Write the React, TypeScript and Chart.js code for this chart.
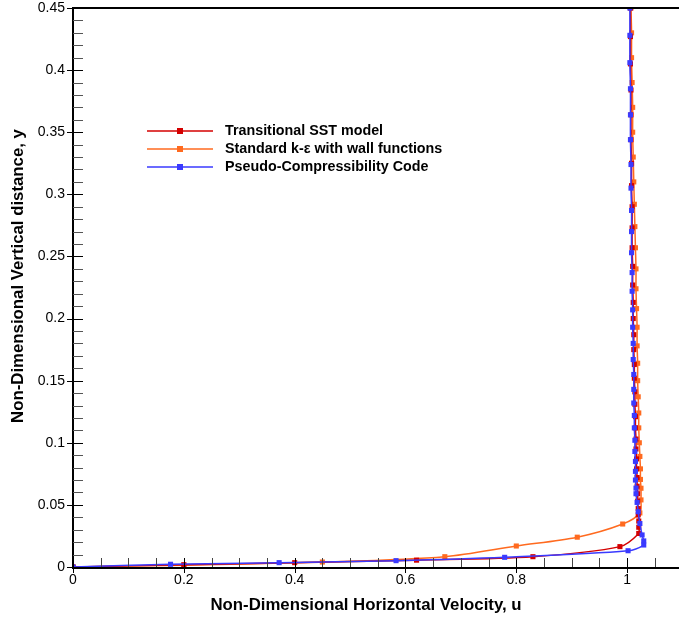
import React, { useEffect, useRef } from 'react';
import { Chart, registerables } from 'chart.js';
Chart.register(...registerables);

// ---- Data ----
const seriesNames = [
  'Transitional SST model',
  'Standard k-ε with wall functions',
  'Pseudo-Compressibility Code',
];

const sstY = [0.45, 0.427, 0.405, 0.384, 0.364, 0.344, 0.325, 0.307, 0.29, 0.273, 0.257, 0.242, 0.227, 0.213, 0.2, 0.187, 0.175, 0.163, 0.152, 0.141, 0.131, 0.121, 0.112, 0.103, 0.095, 0.087, 0.079, 0.072, 0.065, 0.059, 0.053, 0.047, 0.042, 0.037, 0.032, 0.027, 0.0164, 0.0083, 0.0055, 0.0035, 0.0018, 0];
const sstU = [1.006, 1.006, 1.006, 1.007, 1.007, 1.007, 1.008, 1.008, 1.009, 1.009, 1.009, 1.01, 1.01, 1.011, 1.011, 1.012, 1.012, 1.013, 1.013, 1.014, 1.014, 1.015, 1.015, 1.016, 1.016, 1.017, 1.017, 1.018, 1.018, 1.019, 1.019, 1.02, 1.02, 1.021, 1.021, 1.021, 0.987, 0.83, 0.62, 0.4, 0.2, 0];

const keY = [0.45, 0.43, 0.41, 0.39, 0.37, 0.35, 0.33, 0.31, 0.292, 0.274, 0.257, 0.24, 0.224, 0.208, 0.193, 0.178, 0.164, 0.15, 0.137, 0.124, 0.112, 0.1, 0.089, 0.079, 0.0705, 0.0634, 0.054, 0.0435, 0.0346, 0.024, 0.0169, 0.0083, 0.004, 0.0015, 0];
const keU = [1.007, 1.008, 1.008, 1.009, 1.01, 1.01, 1.011, 1.012, 1.013, 1.014, 1.015, 1.016, 1.016, 1.017, 1.018, 1.018, 1.019, 1.019, 1.02, 1.021, 1.021, 1.022, 1.023, 1.024, 1.024, 1.025, 1.025, 1.023, 0.992, 0.91, 0.8, 0.671, 0.45, 0.2, 0];

const pccY = [0.45, 0.428, 0.406, 0.385, 0.364, 0.344, 0.324, 0.305, 0.287, 0.27, 0.253, 0.237, 0.222, 0.207, 0.193, 0.18, 0.167, 0.155, 0.143, 0.132, 0.122, 0.112, 0.102, 0.093, 0.085, 0.077, 0.07, 0.0635, 0.059, 0.052, 0.0445, 0.035, 0.0258, 0.021, 0.0177, 0.0131, 0.0078, 0.0051, 0.0035, 0.0022, 0];
const pccU = [1.005, 1.005, 1.005, 1.006, 1.006, 1.006, 1.007, 1.007, 1.008, 1.008, 1.008, 1.009, 1.009, 1.01, 1.01, 1.011, 1.011, 1.012, 1.012, 1.012, 1.013, 1.013, 1.014, 1.014, 1.015, 1.015, 1.015, 1.016, 1.016, 1.018, 1.02, 1.023, 1.027, 1.03, 1.03, 1.0017, 0.779, 0.583, 0.372, 0.176, 0];

const xTickValues = [0, 0.2, 0.4, 0.6, 0.8, 1];
const xTickLabels = ['0', '0.2', '0.4', '0.6', '0.8', '1'];
const yTickValues = [0, 0.05, 0.1, 0.15, 0.2, 0.25, 0.3, 0.35, 0.4, 0.45];
const yTickLabels = ['0', '0.05', '0.1', '0.15', '0.2', '0.25', '0.3', '0.35', '0.4', '0.45'];

const xTitle = 'Non-Dimensional Horizontal Velocity, u';
const yTitle = 'Non-Dimensional Vertical distance, y';

const colors = ['#d40000', '#ff6a1f', '#3a3aff'];
const FONT = '"Liberation Sans", Arial, Helvetica, sans-serif';

function toPoints(us: number[], ys: number[]) {
  return us.map((u, i) => ({ x: u, y: ys[i] }));
}

const decorPlugin = {
  id: 'decor',
  afterDraw(chart: any) {
    const { ctx, chartArea, scales } = chart;
    const xs = scales.x;
    const ys = scales.y;
    const { left, right, top, bottom } = chartArea;
    ctx.save();
    // frame
    ctx.strokeStyle = '#000';
    ctx.lineWidth = 2;
    ctx.beginPath();
    ctx.moveTo(left, top);
    ctx.lineTo(right + 2, top);
    ctx.moveTo(left, top - 1);
    ctx.lineTo(left, bottom + 1);
    ctx.lineTo(right + 2, bottom + 1);
    ctx.stroke();
    // x ticks
    ctx.lineWidth = 1;
    for (let v = 0; v <= 1.09 + 1e-9; v += 0.05) {
      const major = Math.abs(v / 0.2 - Math.round(v / 0.2)) < 1e-6;
      const px = Math.round(xs.getPixelForValue(v)) + 0.5;
      ctx.strokeStyle = major ? '#000' : '#444';
      ctx.beginPath();
      ctx.moveTo(px, bottom - 9);
      ctx.lineTo(px, bottom + (major ? 6 : 0));
      ctx.stroke();
    }
    // y ticks
    for (let i = 0; i <= 45; i++) {
      const v = i / 100;
      const major = i % 5 === 0;
      const py = Math.round(ys.getPixelForValue(v)) + 0.5;
      ctx.strokeStyle = major ? '#000' : '#555';
      ctx.beginPath();
      ctx.moveTo(left - (major ? 6 : 0), py);
      ctx.lineTo(left + 10, py);
      ctx.stroke();
    }
    // axis titles
    ctx.fillStyle = '#000';
    ctx.font = `bold 16.8px ${FONT}`;
    ctx.textAlign = 'center';
    ctx.textBaseline = 'middle';
    ctx.fillText(xTitle, 366, 605);
    ctx.save();
    ctx.translate(18, 276);
    ctx.rotate(-Math.PI / 2);
    ctx.fillText(yTitle, 0, 0);
    ctx.restore();
    // legend
    const rows = [131, 149, 167];
    ctx.font = `bold 14.3px ${FONT}`;
    ctx.textAlign = 'left';
    rows.forEach((ry, i) => {
      ctx.strokeStyle = colors[i];
      ctx.lineWidth = 1.5;
      ctx.beginPath();
      ctx.moveTo(147, ry);
      ctx.lineTo(213, ry);
      ctx.stroke();
      ctx.fillStyle = colors[i];
      ctx.fillRect(177, ry - 3, 6, 6);
      ctx.fillStyle = '#000';
      ctx.fillText(seriesNames[i], 225, ry);
    });
    ctx.restore();
  },
};

export default function App() {
  const ref = useRef<HTMLCanvasElement | null>(null);
  useEffect(() => {
    if (!ref.current) return;
    const mk = (i: number, data: any[], order: number) => ({
      label: seriesNames[i],
      data,
      borderColor: colors[i],
      backgroundColor: colors[i],
      borderWidth: 1.5,
      pointStyle: 'rect',
      pointRadius: 3.6,
      pointBorderWidth: 0,
      tension: 0.3,
      showLine: true,
      order,
    });
    const chart = new Chart(ref.current, {
      type: 'scatter',
      data: {
        datasets: [
          mk(0, toPoints(sstU, sstY), 2),
          mk(1, toPoints(keU, keY), 3),
          mk(2, toPoints(pccU, pccY), 1),
        ],
      },
      options: {
        animation: false,
        responsive: false,
        devicePixelRatio: 1,
        layout: { padding: { top: 8, right: 1, left: 0, bottom: 0 } },
        plugins: { legend: { display: false }, tooltip: { enabled: false } },
        scales: {
          x: {
            type: 'linear',
            min: 0,
            max: 1.09,
            afterFit: (s: any) => { s.height = 51; s.paddingLeft = 0; s.paddingRight = 0; },
            afterBuildTicks: (s: any) => { s.ticks = xTickValues.map((v) => ({ value: v })); },
            ticks: {
              callback: (v: any) => xTickLabels[xTickValues.findIndex((t) => Math.abs(t - v) < 1e-9)] ?? '',
              font: { family: FONT, size: 14 },
              color: '#000',
              padding: 5,
              maxRotation: 0,
              autoSkip: false,
            },
            grid: { display: false, drawTicks: false },
            border: { display: false },
          },
          y: {
            type: 'linear',
            min: 0,
            max: 0.45,
            afterFit: (s: any) => { s.width = 73; s.paddingTop = 0; s.paddingBottom = 0; },
            afterBuildTicks: (s: any) => { s.ticks = yTickValues.map((v) => ({ value: v })); },
            ticks: {
              callback: (v: any) => yTickLabels[yTickValues.findIndex((t) => Math.abs(t - v) < 1e-9)] ?? '',
              font: { family: FONT, size: 14 },
              color: '#000',
              padding: 8,
              autoSkip: false,
            },
            grid: { display: false, drawTicks: false },
            border: { display: false },
          },
        },
      },
      plugins: [decorPlugin],
    } as any);
    return () => chart.destroy();
  }, []);
  return (
    <div style={{ position: 'absolute', left: 0, top: 0, width: 681, height: 618, background: '#fff' }}>
      <canvas ref={ref} width={681} height={618} style={{ display: 'block' }} />
    </div>
  );
}
